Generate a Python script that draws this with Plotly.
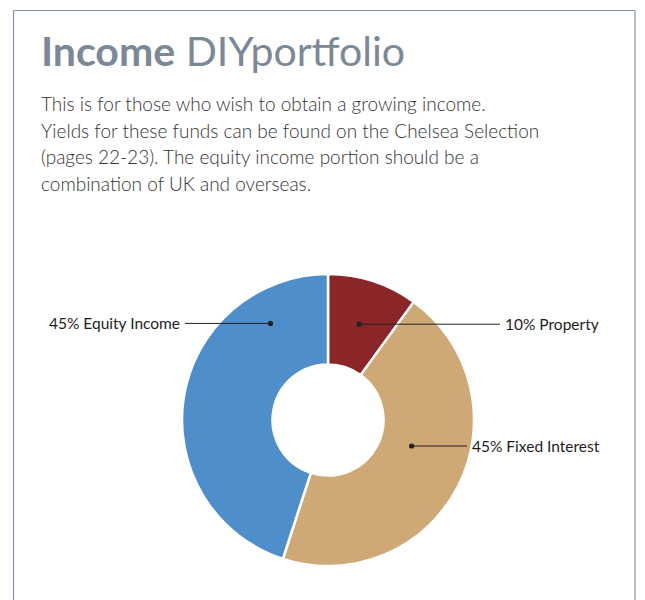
import math
import plotly.graph_objects as go

# Portfolio split
categories = ["Property", "Fixed Interest", "Equity Income"]
weights = [10, 45, 45]
slice_colors = ["#8A2528", "#CFA975", "#4E8FCB"]

title_bold = "Income"
title_rest = "DIYportfolio"
intro_lines = [
    "This is for those who wish to obtain a growing income.",
    "Yields for these funds can be found on the Chelsea Selection",
    "(pages 22-23). The equity income portion should be a",
    "combination of UK and overseas.",
]

# figure size chosen so the page (with its 8px body margin) fits the window
W, H = 637, 592

# pie placement in px (origin top-left of the figure)
cx, cy, R = 320, 412, 146
dom_x = [(cx - R) / W, (cx + R) / W]
dom_y = [1 - (cy + R) / H, 1 - (cy - R) / H]

fig = go.Figure(go.Pie(
    labels=categories,
    values=weights,
    marker=dict(colors=slice_colors, line=dict(color="white", width=2.5)),
    hole=0.38,
    sort=False,
    direction="clockwise",
    rotation=0,
    textinfo="none",
    hoverinfo="label+percent",
    showlegend=False,
    domain=dict(x=dom_x, y=dom_y),
))

# where in each slice the leader dot sits (fraction along slice, fraction of radius)
# and where the leader line ends (px)
label_place = {
    "Property": dict(frac=0.5, rad=0.69, line_end=492, side="left"),
    "Fixed Interest": dict(frac=0.44, rad=0.60, line_end=459, side="left"),
    "Equity Income": dict(frac=0.81, rad=0.77, line_end=177, side="right"),
}

total = sum(weights)
start = 0.0
for cat, val in zip(categories, weights):
    span = 360.0 * val / total
    p = label_place[cat]
    theta = math.radians(start + p["frac"] * span)
    dx = cx + p["rad"] * R * math.sin(theta)
    dy = cy - p["rad"] * R * math.cos(theta)
    pct = round(100 * val / total)
    fig.add_annotation(
        x=dx / W, y=1 - dy / H, xref="paper", yref="paper",
        ax=p["line_end"] - dx, ay=0,
        text=f"{pct}% {cat}",
        xanchor=p["side"], yanchor="middle",
        showarrow=True, arrowhead=6, arrowsize=1.3, arrowwidth=1,
        arrowcolor="#222222", standoff=0, borderpad=4,
        font=dict(family="Lato", size=15.5, color="#1e1e1e"),
    )
    start += span

# title
fig.add_annotation(
    x=31 / W, y=1 - 16 / H, xref="paper", yref="paper",
    xanchor="left", yanchor="top", showarrow=False,
    text=f"<b>{title_bold}</b> {title_rest}",
    font=dict(family="Lato", size=41, color="#7A8898"),
)

# intro paragraph
for i, line in enumerate(intro_lines):
    fig.add_annotation(
        x=31 / W, y=1 - (82 + i * 26.7) / H, xref="paper", yref="paper",
        xanchor="left", yanchor="top", showarrow=False,
        text=line,
        font=dict(family="Lato", size=19, color="#333333", weight=300),
    )

# frame (left, top, right edges)
frame = dict(color="#8494A8", width=1.2)
fx0, fx1, fy = 5.5, 627, 2.5
fig.add_shape(type="line", xref="paper", yref="paper",
              x0=fx0 / W, x1=fx0 / W, y0=0, y1=1 - fy / H, line=frame)
fig.add_shape(type="line", xref="paper", yref="paper",
              x0=fx0 / W, x1=fx1 / W, y0=1 - fy / H, y1=1 - fy / H, line=frame)
fig.add_shape(type="line", xref="paper", yref="paper",
              x0=fx1 / W, x1=fx1 / W, y0=0, y1=1 - fy / H, line=frame)

fig.update_layout(
    width=W, height=H,
    margin=dict(l=0, r=0, t=0, b=0),
    paper_bgcolor="white",
    plot_bgcolor="white",
)

fig.write_html("out.html")
